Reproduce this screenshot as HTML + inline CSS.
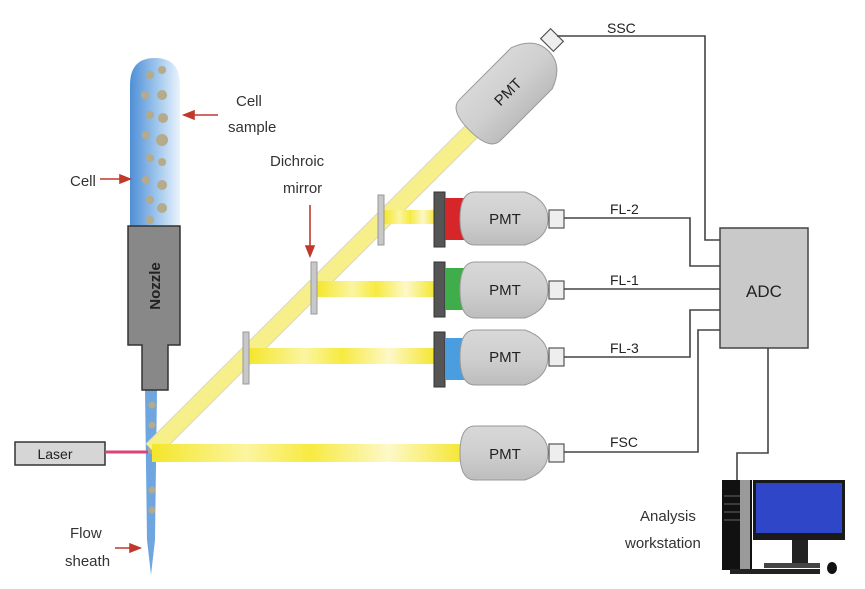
<!DOCTYPE html>
<html><head><meta charset="utf-8"><style>
html,body{margin:0;padding:0;background:#fff;}
svg{display:block;font-family:"Liberation Sans",sans-serif;}
</style></head><body>
<svg width="865" height="589" viewBox="0 0 865 589" xmlns="http://www.w3.org/2000/svg">
<defs>
<linearGradient id="blue" x1="0" x2="1" y1="0" y2="0">
<stop offset="0" stop-color="#4f8fd6"/><stop offset="0.6" stop-color="#a9ccef"/><stop offset="1" stop-color="#eaf3fc"/></linearGradient>
<linearGradient id="pmt" x1="0" x2="0" y1="0" y2="1">
<stop offset="0" stop-color="#d8d8d8"/><stop offset="0.5" stop-color="#cfcfcf"/><stop offset="1" stop-color="#bdbdbd"/></linearGradient>
<linearGradient id="beam" x1="0" x2="1" y1="0" y2="0">
<stop offset="0" stop-color="#f4e62a"/><stop offset="0.3" stop-color="#fbf5a0"/><stop offset="0.5" stop-color="#f7ea40"/><stop offset="0.75" stop-color="#fdf8c8"/><stop offset="1" stop-color="#f4e62a"/></linearGradient>
</defs>

<!-- sample tube -->
<path d="M130,230 L130,85 Q130,58 155,58 Q180,58 180,85 L180,230 Z" fill="url(#blue)"/>
<path d="M145,390 L157,390 L155,540 L151,575 L147,540 Z" fill="#6fa6e0"/>
<g fill="#b5aa8a">
<circle cx="150" cy="75" r="4"/><circle cx="162" cy="70" r="4"/><circle cx="145" cy="95" r="4"/><circle cx="162" cy="95" r="5"/><circle cx="150" cy="115" r="4"/><circle cx="163" cy="118" r="5"/><circle cx="146" cy="135" r="4"/><circle cx="162" cy="140" r="6"/><circle cx="150" cy="158" r="4"/><circle cx="162" cy="162" r="4"/><circle cx="146" cy="180" r="4"/><circle cx="162" cy="185" r="5"/><circle cx="150" cy="200" r="4"/><circle cx="162" cy="208" r="5"/><circle cx="150" cy="220" r="4"/>
<circle cx="152" cy="405" r="3.5"/><circle cx="152" cy="425" r="3.5"/><circle cx="152" cy="450" r="4"/><circle cx="152" cy="490" r="3.5"/><circle cx="152" cy="510" r="3.5"/>
</g>
<!-- nozzle -->
<path d="M128,226 L180,226 L180,345 L168,345 L168,390 L142,390 L142,345 L128,345 Z" fill="#888" stroke="#333" stroke-width="1.5"/>
<text x="0" y="0" transform="translate(160,286) rotate(-90)" font-size="15" font-weight="bold" text-anchor="middle" fill="#222">Nozzle</text>

<!-- laser -->
<rect x="15" y="442" width="90" height="23" fill="#d6d6d6" stroke="#333" stroke-width="1.5"/>
<text x="55" y="459" font-size="14" text-anchor="middle" fill="#222">Laser</text>
<line x1="105" y1="452" x2="148" y2="452" stroke="#d8457a" stroke-width="3"/>

<!-- beams -->
<line x1="152" y1="450" x2="485" y2="118" stroke="#d8d8c0" stroke-width="18"/>
<line x1="152" y1="450" x2="485" y2="118" stroke="#f6ef8a" stroke-width="16"/>
<rect x="152" y="444" width="315" height="18" fill="url(#beam)"/>
<rect x="248" y="348" width="188" height="16" fill="url(#beam)"/>
<rect x="316" y="281" width="120" height="16" fill="url(#beam)"/>
<rect x="384" y="210" width="52" height="14" fill="url(#beam)"/>
<!-- mirrors -->
<g fill="#c8c8c8" stroke="#999" stroke-width="1">
<rect x="378" y="195" width="6" height="50"/>
<rect x="311" y="262" width="6" height="52"/>
<rect x="243" y="332" width="6" height="52"/>
</g>

<!-- filters -->
<g stroke="#333" stroke-width="1">
<rect x="434" y="192" width="11" height="55" fill="#555"/>
<rect x="434" y="262" width="11" height="55" fill="#555"/>
<rect x="434" y="332" width="11" height="55" fill="#555"/>
</g>
<rect x="445" y="198" width="20" height="42" fill="#d6262a"/>
<rect x="445" y="268" width="20" height="42" fill="#3fae4a"/>
<rect x="445" y="338" width="20" height="42" fill="#4a9ee0"/>

<!-- PMTs -->
<g stroke="#999" stroke-width="1" fill="url(#pmt)">
<path d="M475,192 L525,192 Q548,200 548,219 Q548,238 525,245 L475,245 Q460,245 460,219 Q460,192 475,192 Z"/>
<path d="M475,262 L525,262 Q548,270 548,290 Q548,310 525,318 L475,318 Q460,318 460,290 Q460,262 475,262 Z"/>
<path d="M475,330 L525,330 Q548,338 548,357 Q548,377 525,385 L475,385 Q460,385 460,357 Q460,330 475,330 Z"/>
<path d="M475,426 L525,426 Q548,434 548,453 Q548,472 525,480 L475,480 Q460,480 460,453 Q460,426 475,426 Z"/>
<g transform="translate(512,88) rotate(-45)">
<path d="M-45,-29 L28,-29 Q52,-20 52,0 Q52,20 28,29 L-45,29 Q-60,29 -60,0 Q-60,-29 -45,-29 Z"/>
</g>
</g>
<g fill="#eee" stroke="#555" stroke-width="1.2">
<rect x="549" y="210" width="15" height="18"/>
<rect x="549" y="281" width="15" height="18"/>
<rect x="549" y="348" width="15" height="18"/>
<rect x="549" y="444" width="15" height="18"/>
<rect x="-7" y="-9" width="14" height="18" transform="translate(552,40) rotate(-45)"/>
</g>
<g font-size="15" fill="#222" text-anchor="middle">
<text x="505" y="224">PMT</text>
<text x="505" y="295">PMT</text>
<text x="505" y="362">PMT</text>
<text x="505" y="459">PMT</text>
<text x="0" y="5" transform="translate(508,92) rotate(-45)">PMT</text>
</g>

<!-- wires -->
<g fill="none" stroke="#444" stroke-width="1.6">
<polyline points="557,36 705,36 705,240 722,240"/>
<polyline points="564,218 690,218 690,266 722,266"/>
<polyline points="564,289 722,289"/>
<polyline points="564,357 690,357 690,310 722,310"/>
<polyline points="564,452 698,452 698,330 722,330"/>
<polyline points="768,348 768,453 737,453 737,481"/>
</g>
<g font-size="14" fill="#222">
<text x="607" y="33">SSC</text>
<text x="610" y="214">FL-2</text>
<text x="610" y="285">FL-1</text>
<text x="610" y="353">FL-3</text>
<text x="610" y="447">FSC</text>
</g>
<rect x="720" y="228" width="88" height="120" fill="#c9c9c9" stroke="#444" stroke-width="1.5"/>
<text x="764" y="297" font-size="17" text-anchor="middle" fill="#222">ADC</text>

<!-- computer -->
<rect x="722" y="480" width="30" height="90" fill="#111"/>
<rect x="740" y="480" width="10" height="90" fill="#9a9a9a"/>
<g stroke="#666" stroke-width="1"><line x1="724" y1="496" x2="740" y2="496"/><line x1="724" y1="504" x2="740" y2="504"/><line x1="724" y1="512" x2="740" y2="512"/><line x1="724" y1="520" x2="740" y2="520"/></g>
<rect x="753" y="480" width="92" height="60" fill="#1a1a1a"/>
<rect x="756" y="483" width="86" height="50" fill="#2f46c8"/>
<rect x="792" y="540" width="16" height="24" fill="#222"/>
<rect x="764" y="563" width="56" height="5" fill="#444"/>
<rect x="730" y="569" width="90" height="5" fill="#222"/>
<ellipse cx="832" cy="568" rx="5" ry="6" fill="#111"/>

<!-- labels -->
<g font-size="15" fill="#333">
<text x="236" y="106">Cell</text>
<text x="228" y="132">sample</text>
<text x="70" y="186">Cell</text>
<text x="270" y="166">Dichroic</text>
<text x="283" y="193">mirror</text>
<text x="70" y="538">Flow</text>
<text x="65" y="566">sheath</text>
<text x="640" y="521" font-size="15">Analysis</text>
<text x="625" y="548" font-size="15">workstation</text>
</g>
<g stroke="#c0392b" stroke-width="1.6" fill="#c0392b">
<line x1="218" y1="115" x2="192" y2="115"/><polygon points="184,115 194,111 194,119"/>
<line x1="100" y1="179" x2="122" y2="179"/><polygon points="130,179 120,175 120,183"/>
<line x1="310" y1="205" x2="310" y2="248"/><polygon points="310,256 306,246 314,246"/>
<line x1="115" y1="548" x2="132" y2="548"/><polygon points="140,548 130,544 130,552"/>
</g>
</svg>
</body></html>
